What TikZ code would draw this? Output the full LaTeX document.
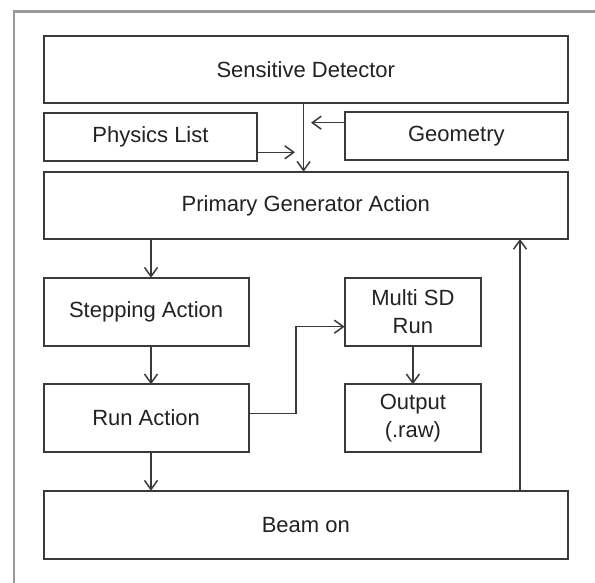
\documentclass[tikz,border=0pt]{standalone}
\usepackage{fontspec}
\setmainfont{Liberation Sans}
\usetikzlibrary{arrows.meta,calc}
\definecolor{ln}{HTML}{3A3A3A}
\definecolor{tx}{HTML}{222222}
\definecolor{frm}{HTML}{9A9A9A}
\begin{document}
\begin{tikzpicture}[x=1pt,y=-1pt,
  box/.style={draw=ln,line width=1.8pt,inner sep=0pt,outer sep=0pt,text=tx,
    font=\fontsize{22}{27.3}\selectfont,align=center},
  arr/.style={draw=ln,line width=1.5pt,-{Straight Barb[length=9pt,width=13pt]}},
  ln/.style={draw=ln,line width=1.5pt}]
\useasboundingbox (0,0) rectangle (595,583);
\fill[white] (0,0) rectangle (595,583);
\draw[frm,line width=2.6pt] (14,583) -- (14,11.7) -- (595,11.7);
% boxes
\node[box,minimum width=524.4pt,minimum height=67.6pt] (sd) at (305.8,69.5) {Sensitive Detector};
\node[box,minimum width=213.7pt,minimum height=48pt] (phys) at (150.45,137.3) {Physics List};
\node[box,minimum width=223.4pt,minimum height=48.6pt] (geo) at (456.3,136) {Geometry};
\node[box,minimum width=524.4pt,minimum height=67.3pt] (pga) at (305.8,205.35) {Primary Generator Action};
\node[box,minimum width=205pt,minimum height=68pt] (step) at (146.1,311.7) {Stepping Action};
\node[box,minimum width=205pt,minimum height=67.4pt] (run) at (146.1,418) {Run Action};
\node[box,minimum width=136.6pt,minimum height=68pt] (multi) at (412.9,311.7) {Multi SD\\Run};
\node[box,minimum width=136.6pt,minimum height=67.4pt] (out) at (412.9,418) {Output\\(.raw)};
\node[box,minimum width=524.4pt,minimum height=68.3pt] (beam) at (305.8,524.85) {Beam on};
% helper coordinates
\coordinate (jx) at (303.6,0);
\coordinate (gy) at (0,122.7);
\coordinate (gt) at (311,122.7);
\coordinate (py) at (0,152.3);
\coordinate (pt) at (295,152.3);
\coordinate (ax) at (151,0);
\coordinate (ry) at (0,413.3);
\coordinate (my) at (0,326.7);
\coordinate (bx) at (296,0);
\coordinate (cx) at (520,0);
% connectors
\draw[arr] (sd.south -| jx) -- (pga.north -| jx);
\draw[arr] (geo.west |- gy) -- (gt);
\draw[arr] (phys.east |- py) -- (pt);
\draw[arr] (pga.south -| ax) -- (step.north -| ax);
\draw[arr] (step.south -| ax) -- (run.north -| ax);
\draw[arr] (run.south -| ax) -- (beam.north -| ax);
\draw[arr] (run.east |- ry) -| (bx |- my) -- (multi.west |- my);
\draw[arr] (multi.south) -- (out.north);
\draw[arr] (beam.north -| cx) -- (pga.south -| cx);
\end{tikzpicture}
\end{document}
